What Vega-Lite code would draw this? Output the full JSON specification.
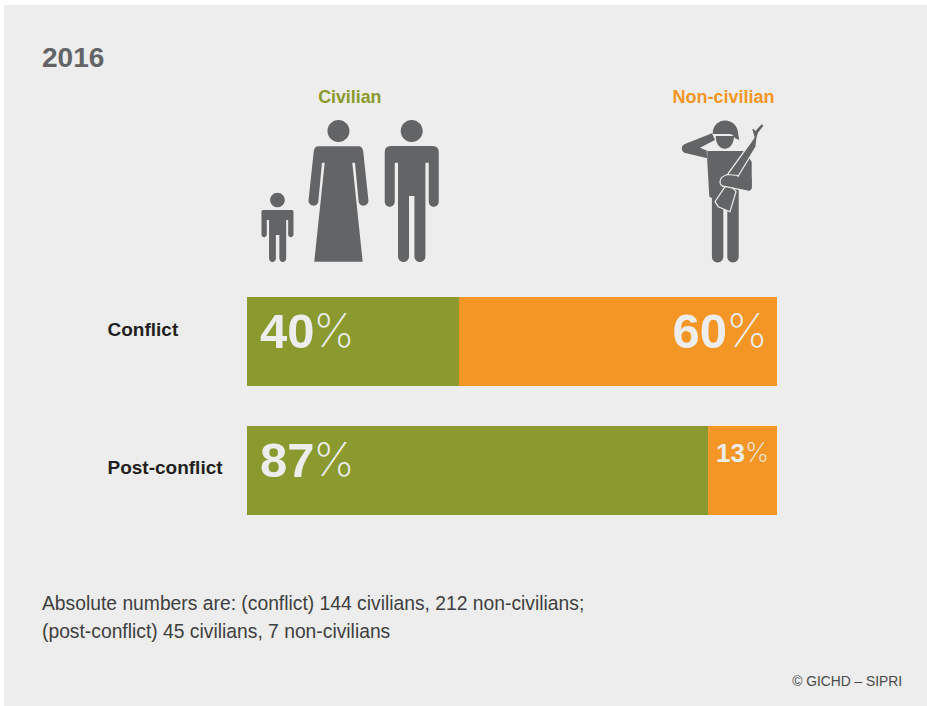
{"$schema":"https://vega.github.io/schema/vega-lite/v6.json","width":923,"height":701,"autosize":"none","padding":{"left":4,"top":5,"right":0,"bottom":0},"background":"#ffffff","view":{"fill":"#ecedec","stroke":null},"config":{"font":"Liberation Sans"},
"data":{"values":[{"phase":"Conflict","group":"Civilian","value":40},{"phase":"Conflict","group":"Non-civilian","value":60},{"phase":"Post-conflict","group":"Civilian","value":87},{"phase":"Post-conflict","group":"Non-civilian","value":13}]},
"layer":[
{"mark":{"type":"bar","cornerRadius":0},"encoding":{
"x":{"field":"value","type":"quantitative","stack":"zero","scale":{"domain":[0,100],"range":[243,773],"nice":false},"axis":null},
"y":{"field":"phase","type":"nominal","sort":null,"scale":{"domain":["Conflict","Post-conflict"],"range":[272,530],"paddingInner":0.31,"paddingOuter":0.155},"axis":{"orient":"left","title":null,"domain":false,"ticks":false,"offset":-103,"labelPadding":0,"labelAlign":"left","labelFont":"Liberation Sans","labelFontWeight":"bold","labelFontSize":19,"labelColor":"#231f20","labelOffset":{"condition":{"test":"datum.value==='Conflict'","value":-12},"value":-3}}},
"color":{"field":"group","type":"nominal","scale":{"domain":["Civilian","Non-civilian"],"range":["#8a9a2e","#f49625"]},"legend":null},
"order":{"field":"group"}}},
{"transform":[{"filter":"datum.group==='Civilian'"}],"encoding":{"x":{"datum":0},"y":{"field":"phase","type":"nominal","sort":null}},"layer":[
{"mark":{"type":"text","align":"left","baseline":"middle","dx":13,"dy":-9,"fontSize":49,"fontWeight":"bold","color":"#ecedec"},"encoding":{"text":{"field":"value"}}},
{"mark":{"type":"text","align":"left","baseline":"middle","dx":66,"dy":-9,"fontSize":47,"font":"Inter","fontWeight":200,"color":"#ecedec","text":"%"}}]},
{"transform":[{"filter":"datum.group==='Non-civilian' && datum.value>=20"}],"encoding":{"x":{"datum":100},"y":{"field":"phase","type":"nominal","sort":null}},"layer":[
{"mark":{"type":"text","align":"right","baseline":"middle","dx":-50,"dy":-9,"fontSize":49,"fontWeight":"bold","color":"#ecedec"},"encoding":{"text":{"field":"value"}}},
{"mark":{"type":"text","align":"right","baseline":"middle","dx":-9,"dy":-9,"fontSize":47,"font":"Inter","fontWeight":200,"color":"#ecedec","text":"%"}}]},
{"transform":[{"filter":"datum.group==='Non-civilian' && datum.value<20"}],"encoding":{"x":{"datum":100},"y":{"field":"phase","type":"nominal","sort":null}},"layer":[
{"mark":{"type":"text","align":"right","baseline":"middle","dx":-32,"dy":-17,"fontSize":26,"fontWeight":"bold","color":"#ecedec"},"encoding":{"text":{"field":"value"}}},
{"mark":{"type":"text","align":"right","baseline":"middle","dx":-8,"dy":-17,"fontSize":27,"font":"Inter","fontWeight":200,"color":"#ecedec","text":"%"}}]},
{"data":{"values":[{"t":"2016"}]},"mark":{"type":"text","align":"left","baseline":"middle","fontSize":28,"fontWeight":"bold","color":"#636466"},"encoding":{"x":{"datum":-38.68},"y":{"value":54},"text":{"field":"t"}}},
{"data":{"values":[{"t":"Civilian"}]},"mark":{"type":"text","align":"center","baseline":"middle","fontSize":17.8,"fontWeight":"bold","color":"#8a9a2e"},"encoding":{"x":{"datum":19.4},"y":{"value":93},"text":{"field":"t"}}},
{"data":{"values":[{"t":"Non-civilian"}]},"mark":{"type":"text","align":"center","baseline":"middle","fontSize":18,"fontWeight":"bold","color":"#f49625"},"encoding":{"x":{"datum":89.9},"y":{"value":93},"text":{"field":"t"}}},
{"data":{"values":[{"t":"Absolute numbers are: (conflict) 144 civilians, 212 non-civilians;\n(post-conflict) 45 civilians, 7 non-civilians"}]},"mark":{"type":"text","align":"left","baseline":"top","lineBreak":"\n","lineHeight":27.5,"fontSize":19.3,"font":"Liberation Sans","color":"#3f3f41"},"encoding":{"x":{"datum":-38.68},"y":{"value":590},"text":{"field":"t"}}},
{"data":{"values":[{"t":"© GICHD – SIPRI"}]},"mark":{"type":"text","align":"right","baseline":"middle","fontSize":13.8,"color":"#4a4a4c"},"encoding":{"x":{"datum":123.6},"y":{"value":677},"text":{"field":"t"}}},
{"data":{"values":[{"figure":"child"}]},"mark":{"type":"point","filled":true,"size":4,"opacity":1,"fill":"#636466","stroke":null,"shape":"M-7.3,-36 a7.3,7.3 0 1,0 14.6,0 a7.3,7.3 0 1,0 -14.6,0 Z M-14.5,-26 L14.5,-26 Q16,-26 16,-24.5 L16,-1 A2.7,2.7 0 0 1 10.7,-1 L10.7,-16 L8.7,-16 L8.7,22.6 A3.4,3.4 0 0 1 1.9,22.6 L1.9,-1 L-1.6,-1 L-1.6,22.6 A3.4,3.4 0 0 1 -8.4,22.6 L-8.4,-16 L-10.7,-16 L-10.7,-1 A2.7,2.7 0 0 1 -16,-1 L-16,-24.5 Q-16,-26 -14.5,-26 Z"},"encoding":{"x":{"datum":5.75},"y":{"value":231}}},
{"data":{"values":[{"figure":"woman"}]},"mark":{"type":"point","filled":true,"size":4,"opacity":1,"fill":"#636466","stroke":null,"shape":"M-11,-69 a11,11 0 1,0 22,0 a11,11 0 1,0 -22,0 Z M-20,-53.7 L20,-53.7 Q24,-53.7 24.7,-49 L30,1 A5,5 0 0 1 20.2,2 L16.5,-37.3 L13.8,-37.3 L24.2,61.7 L-24.2,61.7 L-13.8,-37.3 L-16.5,-37.3 L-20.2,2 A5,5 0 0 1 -30,1 L-24.7,-49 Q-24,-53.7 -20,-53.7 Z"},"encoding":{"x":{"datum":17.26},"y":{"value":195}}},
{"data":{"values":[{"figure":"man"}]},"mark":{"type":"point","filled":true,"size":4,"opacity":1,"fill":"#636466","stroke":null,"shape":"M-11,-69 a11,11 0 1,0 22,0 a11,11 0 1,0 -22,0 Z M-21,-54 H21 Q27,-54 27,-48 V1.7 A5,5 0 0 1 17,1.7 V-37.3 H13.7 V56.5 A5.5,5.5 0 0 1 2.7,56.5 V-4 H-2.7 V56.5 A5.5,5.5 0 0 1 -13.7,56.5 V-37.3 H-17 V1.7 A5,5 0 0 1 -27,1.7 V-48 Q-27,-54 -21,-54 Z"},"encoding":{"x":{"datum":31.08},"y":{"value":195}}},
{"data":{"values":[{"figure":"soldier"}]},"encoding":{"x":{"datum":90.19},"y":{"value":185}},"layer":[
{"mark":{"type":"point","filled":true,"size":4,"opacity":1,"fill":"#636466","stroke":null,"shape":"M-18.3,-39 L20,-39 L26.7,-28 L26.7,-3 Q26.7,0.7 23,0.7 L13.7,-1 L13.7,66.7 A5.7,5.7 0 0 1 2.3,66.7 L2.3,8 L-1.7,8 L-1.7,66.7 A5.7,5.7 0 0 1 -13.1,66.7 L-13.1,8 L-15.7,6.7 Z M-12.3,-56 C-12.3,-74 13,-74 13.3,-55 L14.3,-50 L10,-51.7 Q8.3,-55.7 5,-56 Z M-9.3,-54 L9,-54 C9,-37 -9.3,-37 -9.3,-54 Z M-13,-56.7 L-40.7,-45.7 Q-43.3,-44 -43.3,-41.7 Q-43.3,-38.5 -40.7,-37.3 L-17.7,-31.7 L-17.7,-39.3 L-25,-42.3 L-10,-50 Z"}},
{"mark":{"type":"point","filled":true,"size":4,"opacity":1,"fill":"#636466","stroke":"#ecedec","strokeWidth":1.2,"shape":"M36.7,-66.7 L39.3,-64.3 L33.5,-57 L32,-52 L31,-43.3 L6.7,-3.3 L11,1.7 L5,21.7 L-6.7,16.7 L-10,11.7 L0,-3.3 L3.3,-16.7 L25,-46.7 L29,-52.7 L26.7,-60.7 L28.3,-62.3 L30.3,-60 Z"}},
{"mark":{"type":"point","filled":true,"size":4,"opacity":1,"fill":"#636466","stroke":null,"shape":"M2.3,-15 Q-4.3,-12.7 -4.3,-8.3 Q-4.3,-4 1,-4 L23.3,0.7 Q26.7,0.7 26.7,-3.3 L26.7,-13 L13,-13 Z"}},
{"mark":{"type":"point","filled":false,"size":4,"opacity":1,"stroke":"#ecedec","strokeWidth":1.2,"shape":"M13,-14.5 L2.3,-15.5 Q-5,-13 -5,-8.3 Q-5,-3.3 1,-3.3 L23.3,1.4"}}]}
]}
